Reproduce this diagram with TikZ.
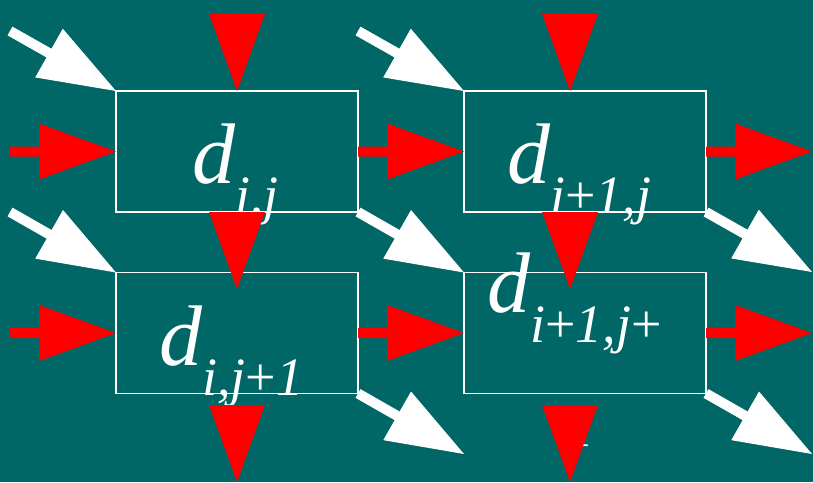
\documentclass[tikz,border=0pt]{standalone}
\usepackage{fontspec}
\setmainfont{Liberation Serif}
\usetikzlibrary{calc}
\definecolor{bgteal}{RGB}{0,102,102}
\definecolor{arrred}{RGB}{255,0,0}
\newcommand\fatarrow[3]{%
  \coordinate (fb) at ($(#3)!77pt!(#2)$);
  \fill[#1] ($(#2)!5pt!90:(#3)$) -- ($(fb)!5pt!90:(#3)$) -- ($(fb)!28pt!90:(#3)$) -- (#3)
    -- ($(fb)!28pt!-90:(#3)$) -- ($(fb)!5pt!-90:(#3)$) -- ($(#2)!5pt!-90:(#3)$) -- cycle;}
\newcommand\subtxt[1]{\raisebox{-30pt}{\fontsize{54pt}{54pt}\selectfont #1}}
\tikzset{
  cell/.style={draw=white, line width=1.5pt, minimum width=242pt, minimum height=121pt, inner sep=0pt, outer sep=0pt},
  dtext/.style={text=white, inner sep=0pt, anchor=base west, font=\fontsize{86pt}{86pt}\selectfont\itshape},
  redarr/.style={fill=arrred},
  whitearr/.style={fill=white}
}
\begin{document}
\begin{tikzpicture}[x=1pt,y=-1pt]
\fill[bgteal] (0,0) rectangle (813,482);
\useasboundingbox (0,0) rectangle (813,482);
% texts
\node[dtext] (tA) at (192,183) {d\subtxt{i,j}};
\node[dtext] (tB) at (507,183) {d\subtxt{i\textup{+}1,j}};
\node[dtext] (tC) at (159,365) {d\subtxt{i,j\textup{+}1}};
\node[dtext] (tD) at (487,312) {d\subtxt{i\textup{+}1,j\textup{+}}};
\node[dtext] (tD2) at (567,416) {\subtxt{1}};
% boxes
\node[cell] (A) at (237,151.5) {};
\node[cell] (B) at (585,151.5) {};
\node[cell] (C) at (237,333) {};
\node[cell] (D) at (585,333) {};
% free ends
\coordinate (inA) at (10,151.5);
\coordinate (inC) at (10,333);
\coordinate (outB) at (812,151.5);
\coordinate (outD) at (812,333);
\coordinate (wA) at (10,31);
\coordinate (wB) at (358,31);
\coordinate (wC) at (10,212);
\coordinate (wBo) at (812,272);
\coordinate (wCo) at (464,454);
\coordinate (wDo) at (812,454);
\coordinate (dA) at (237,13);
\coordinate (dB) at (570,13);
\coordinate (dBe) at (570,91);
\coordinate (dAC) at (237,289);
\coordinate (dBD0) at (570,212);
\coordinate (dBD) at (570,289);
\coordinate (dC0) at (237,405);
\coordinate (dC) at (237,482);
\coordinate (dD0) at (570,405);
\coordinate (dD) at (570,482);
% white diagonal arrows
\fatarrow{whitearr}{wA}{A.north west}
\fatarrow{whitearr}{wB}{B.north west}
\fatarrow{whitearr}{wC}{C.north west}
\fatarrow{whitearr}{A.south east}{D.north west}
\fatarrow{whitearr}{B.south east}{wBo}
\fatarrow{whitearr}{C.south east}{wCo}
\fatarrow{whitearr}{D.south east}{wDo}
% red horizontal arrows
\fatarrow{redarr}{inA}{A.west}
\fatarrow{redarr}{A.east}{B.west}
\fatarrow{redarr}{B.east}{outB}
\fatarrow{redarr}{inC}{C.west}
\fatarrow{redarr}{C.east}{D.west}
\fatarrow{redarr}{D.east}{outD}
% red down arrows
\fatarrow{redarr}{dA}{A.north}
\fatarrow{redarr}{dB}{dBe}
\fatarrow{redarr}{A.south}{dAC}
\fatarrow{redarr}{dBD0}{dBD}
\fatarrow{redarr}{dC0}{dC}
\fatarrow{redarr}{dD0}{dD}
\end{tikzpicture}
\end{document}
